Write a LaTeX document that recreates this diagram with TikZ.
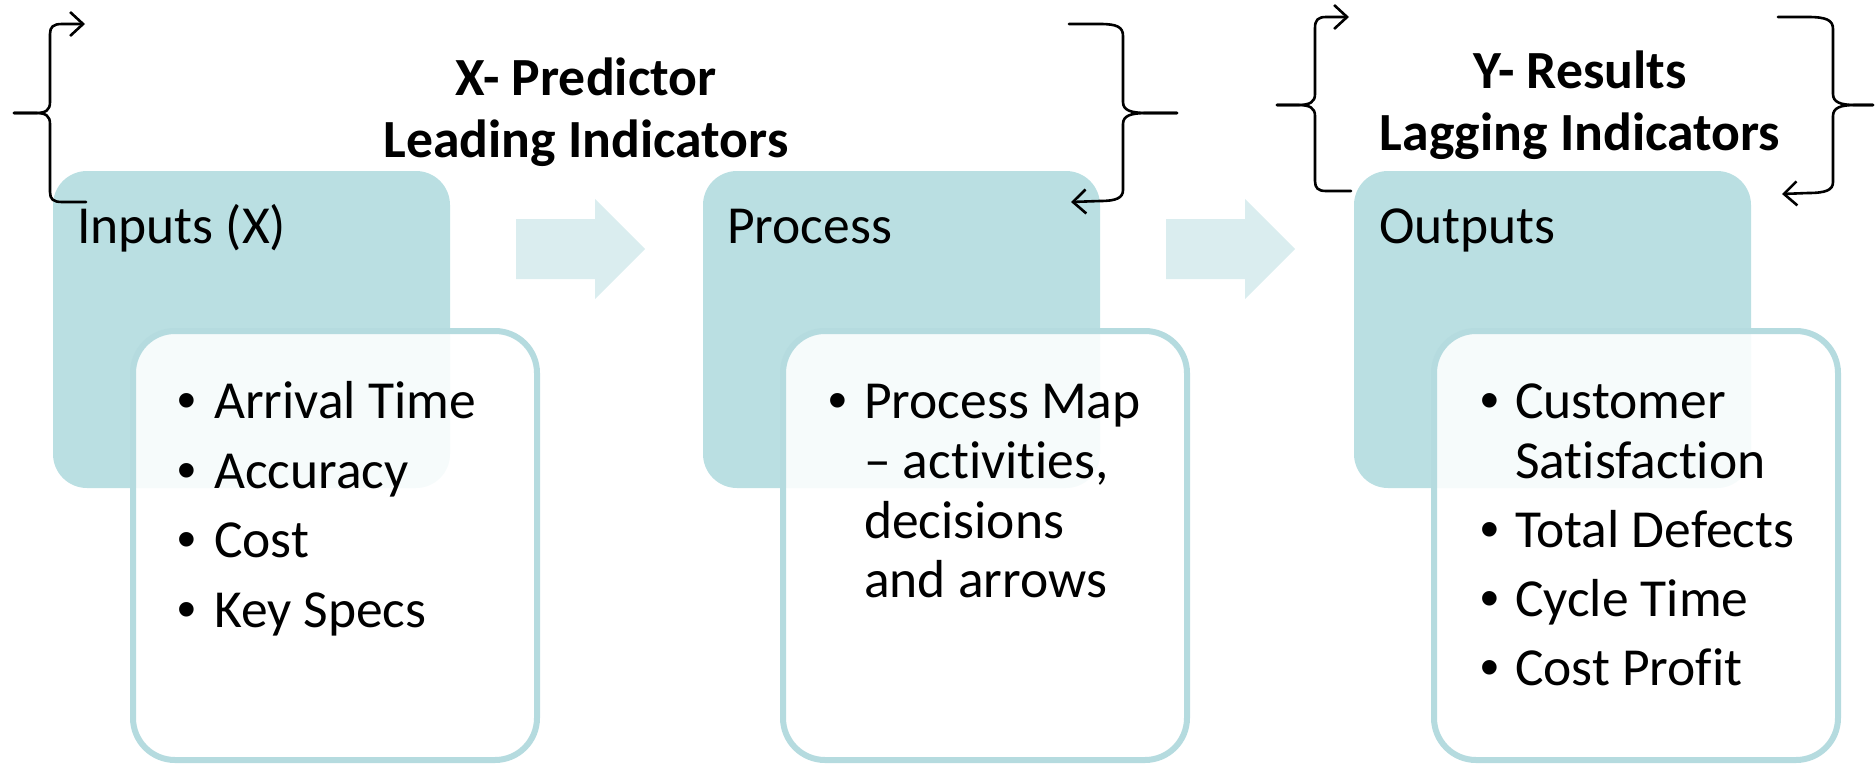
\documentclass[tikz,border=0pt]{standalone}
\usepackage{fontspec}
\setmainfont{Carlito}[Ligatures=NoCommon]
\newfontfamily\bulletfont{Liberation Sans}
\usetikzlibrary{arrows.meta}
\definecolor{tealfill}{RGB}{186,223,226}
\definecolor{tealline}{RGB}{181,219,223}
\definecolor{flowfill}{RGB}{218,237,239}

\begin{document}
\begin{tikzpicture}[x=1pt,y=-1pt,
  headbox/.style={fill=tealfill, rounded corners=34pt, inner sep=0pt, outer sep=0pt, anchor=north west},
  listbox/.style={draw=tealline, line width=6pt, fill=white, fill opacity=0.88,
                  rounded corners=42pt, inner sep=0pt, outer sep=0pt, anchor=north west},
  flow/.style={fill=flowfill},
  brace/.style={draw=black, line width=2.6pt, line cap=round, line join=round},
  tipped/.style={-{Straight Barb[length=13pt,width=24pt]}},
  heading/.style={font=\fontsize{53.5}{60}\selectfont, anchor=base west, inner sep=0pt},
  item/.style={font=\fontsize{53.5}{60}\selectfont, anchor=base west, inner sep=0pt},
  dot/.style={font=\bulletfont\fontsize{53.5}{60}\selectfont, anchor=base, inner sep=0pt},
  title/.style={font=\bfseries\fontsize{53.7}{60}\selectfont, anchor=base, inner sep=0pt}
]
\useasboundingbox (0,0) rectangle (1875,764);

% header panels
\node[headbox, minimum width=397pt, minimum height=317pt] (inhead)  at (53,171)   {};
\node[headbox, minimum width=397pt, minimum height=317pt] (prhead)  at (703,171)  {};
\node[headbox, minimum width=397pt, minimum height=317pt] (outhead) at (1354,171) {};

% list panels overlapping the headers
\node[listbox, minimum width=404pt, minimum height=429pt] (inlist)  at (133,331)  {};
\node[listbox, minimum width=404pt, minimum height=429pt] (prlist)  at (783,331)  {};
\node[listbox, minimum width=404pt, minimum height=429pt] (outlist) at (1434,331) {};

% flow arrows between the stages
\fill[flow] (516,219) -- (595,219) -- (595,199) -- (645,249) -- (595,299) -- (595,279) -- (516,279) -- cycle;
\fill[flow] (1166,219) -- (1245,219) -- (1245,199) -- (1295,249) -- (1245,299) -- (1245,279) -- (1166,279) -- cycle;

% brace around the predictor group
\draw[brace, tipped] (14,113) -- (36,113) .. controls (46,113) and (50,110) .. (50,102)
  -- (50,34) .. controls (50,27) and (53,24) .. (62,24) -- (85,24);
\draw[brace] (14,113) -- (36,113) .. controls (46,113) and (50,116) .. (50,124)
  -- (50,192) .. controls (50,199) and (53,202) .. (62,202) -- (86,202);
\draw[brace] (1177,113) -- (1147,113) .. controls (1130,113) and (1123,110) .. (1123,102)
  -- (1123,36) .. controls (1123,27) and (1117,24) .. (1100,24) -- (1069,24);
\draw[brace, tipped] (1177,113) -- (1147,113) .. controls (1130,113) and (1123,116) .. (1123,124)
  -- (1123,190) .. controls (1123,198) and (1116,201) .. (1100,201) -- (1071,202);

% brace around the results group
\draw[brace, tipped] (1277,105) -- (1298,105) .. controls (1310,105) and (1315,102) .. (1315,94)
  -- (1315,28) .. controls (1315,20) and (1318,17) .. (1326,17) -- (1349,17);
\draw[brace] (1277,105) -- (1298,105) .. controls (1310,105) and (1315,108) .. (1315,116)
  -- (1315,181) .. controls (1315,188) and (1318,191) .. (1326,191) -- (1351,191);
\draw[brace] (1873,105) -- (1855,105) .. controls (1840,105) and (1833,102) .. (1833,94)
  -- (1833,29) .. controls (1833,20) and (1826,17) .. (1808,17) -- (1778,17);
\draw[brace, tipped] (1873,105) -- (1855,105) .. controls (1840,105) and (1833,108) .. (1833,116)
  -- (1833,182) .. controls (1833,190) and (1826,193) .. (1808,193) -- (1782,194);

% group titles
\node[title] (xt1) at (586,95)  {X- Predictor};
\node[title] (xt2) at (586,157) {Leading Indicators};
\node[title] (yt1) at (1580,88)  {Y- Results};
\node[title] (yt2) at (1580,150) {Lagging Indicators};

% stage headings
\node[heading] (inlabel)  at (77,243)   {Inputs (X)};
\node[heading] (prlabel)  at (727,243)  {Process};
\node[heading] (outlabel) at (1379,243) {Outputs};

% inputs list
\node[dot]  (ib1) at (187,418) {•};
\node[item] (i1)  at (214,418) {Arrival Time};
\node[dot]  (ib2) at (187,488) {•};
\node[item] (i2)  at (214,488) {Accuracy};
\node[dot]  (ib3) at (187,557) {•};
\node[item] (i3)  at (214,557) {Cost};
\node[dot]  (ib4) at (187,627) {•};
\node[item] (i4)  at (214,627) {Key Specs};

% process list
\node[dot]  (pb1) at (838,418) {•};
\node[item] (p1)  at (864,418) {Process Map};
\node[item] (p2)  at (864,478) {– activities,};
\node[item] (p3)  at (864,538) {decisions};
\node[item] (p4)  at (864,597) {and arrows};

% outputs list
\node[dot]  (ob1) at (1490,418) {•};
\node[item] (o1)  at (1515,418) {Customer};
\node[item] (o1b) at (1515,478) {Satisfaction};
\node[dot]  (ob2) at (1490,547) {•};
\node[item] (o2)  at (1515,547) {Total Defects};
\node[dot]  (ob3) at (1490,616) {•};
\node[item] (o3)  at (1515,616) {Cycle Time};
\node[dot]  (ob4) at (1490,685) {•};
\node[item] (o4)  at (1515,685) {Cost Profit};
\end{tikzpicture}
\end{document}
